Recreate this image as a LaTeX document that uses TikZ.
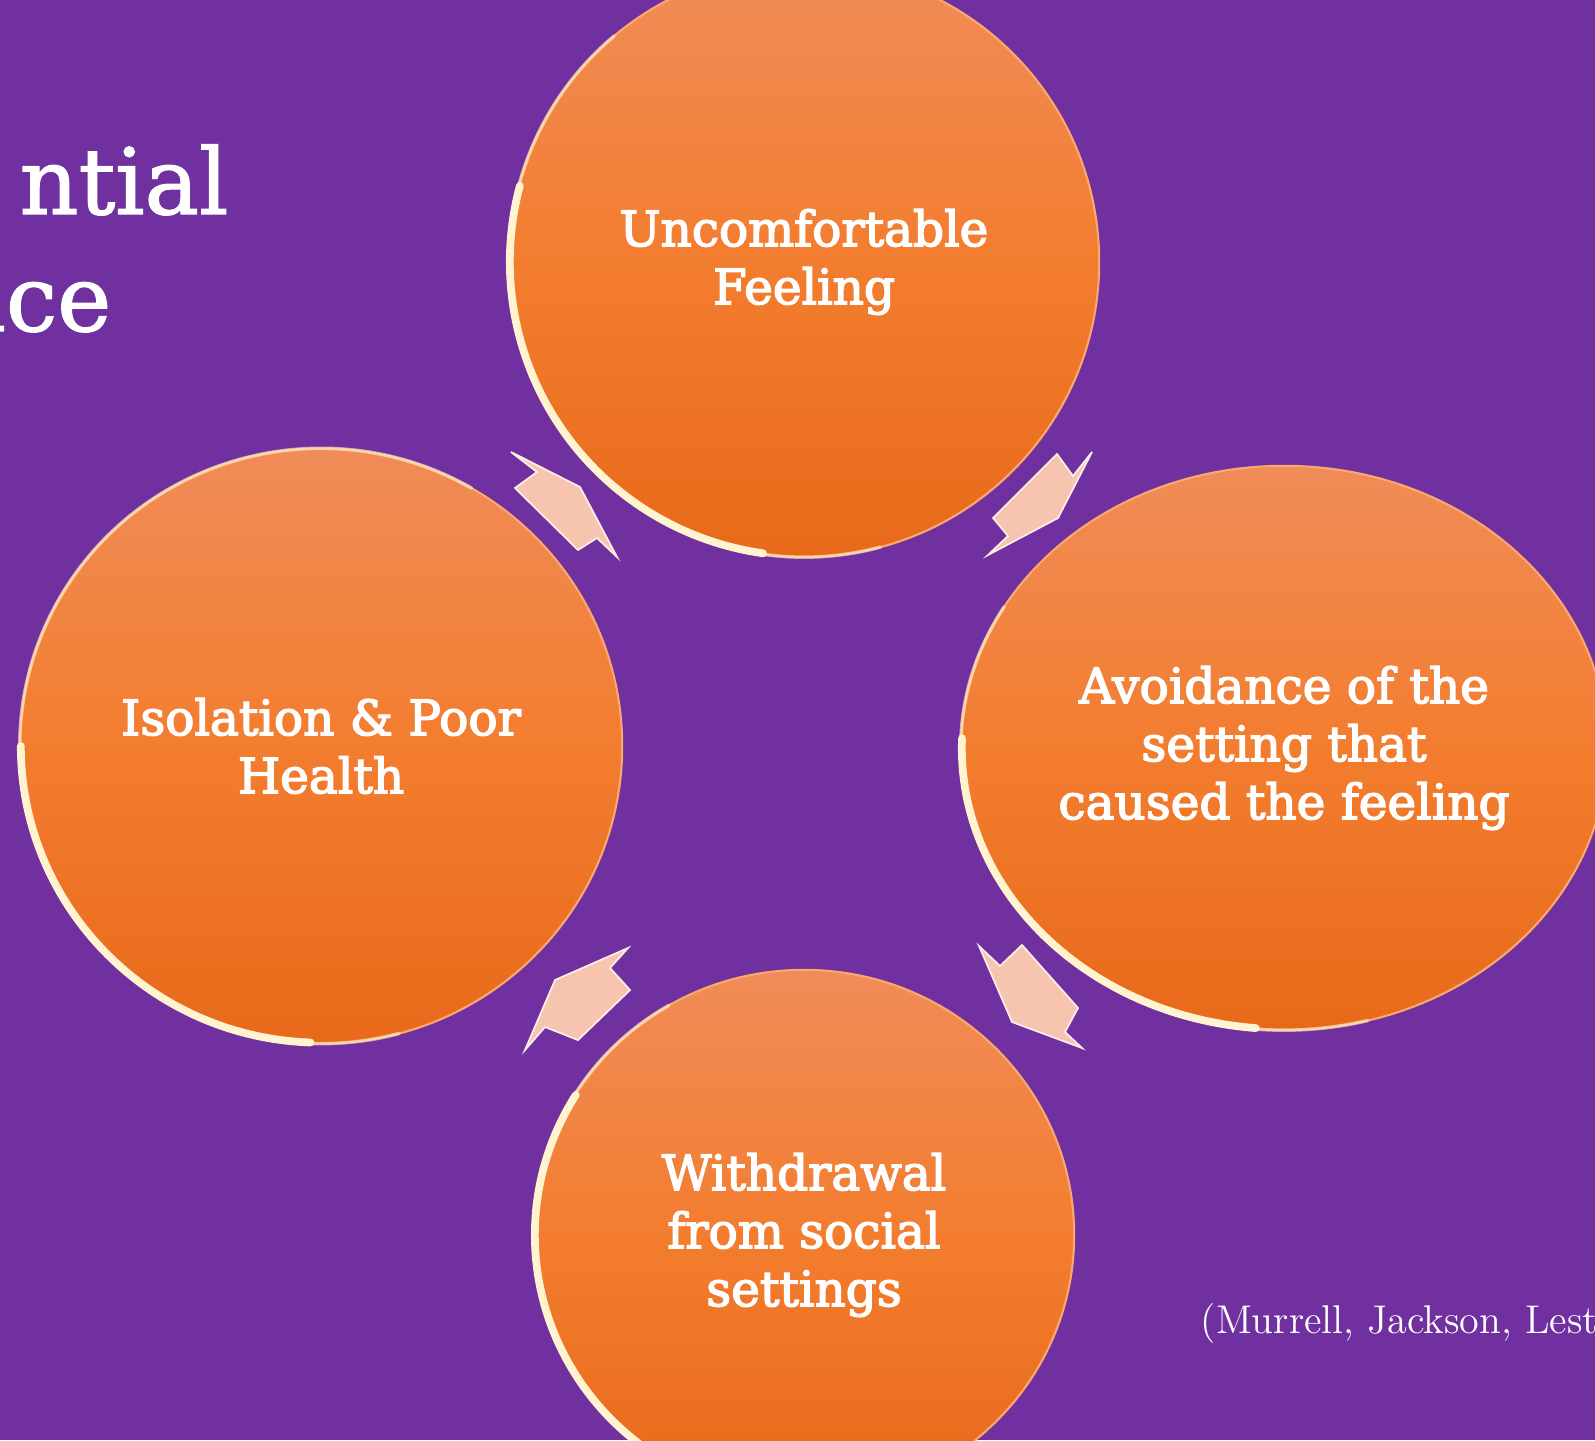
\documentclass[tikz,border=0pt]{standalone}
\usepackage{fontspec}
\newfontfamily\cyclefont{DejaVu Serif}[FakeBold=3]
\newfontfamily\titlefont{DejaVu Serif}[FakeBold=1.5]
\usetikzlibrary{shapes.geometric}

\definecolor{slidepurple}{HTML}{7030A0}
\definecolor{orangetop}{HTML}{F08C58}
\definecolor{orangemid}{HTML}{F37D2F}
\definecolor{orangebot}{HTML}{E8691A}
\definecolor{rimorange}{HTML}{F9A86E}
\definecolor{rimlight}{HTML}{FFF4CF}
\definecolor{arrowpeach}{HTML}{F7C4AF}

\tikzset{
  stage/.style={circle, inner sep=0pt, top color=orangetop, bottom color=orangebot,
    middle color=orangemid, draw=rimorange, line width=0.6pt, text=white, align=center,
    font=\cyclefont\fontsize{13.8}{16.5}\selectfont},
  rimglow/.style={rimlight, line width=1pt, line cap=round, opacity=0.6},
  rim/.style={rimlight, line width=2.2pt, line cap=round},
  cyclearrow/.style={fill=arrowpeach, draw=white!70!arrowpeach, line width=0.5pt, line join=miter},
  slidetitle/.style={text=white, inner sep=0pt, font=\titlefont\fontsize{26}{33}\selectfont},
  citation/.style={text=white, inner sep=0pt, font=\rmfamily\fontsize{11.4}{14}\selectfont}
}

\begin{document}
\begin{tikzpicture}[x=0.01cm, y=-0.01cm]
  \useasboundingbox (0,0) rectangle (1595,1440);
  \fill[slidepurple] (0,0) rectangle (1595,1440);
  \clip (0,0) rectangle (1595,1440);

  % title, cut off at the left edge
  \node[slidetitle, anchor=base east] (ttlone) at (229,214) {ntial};
  \node[slidetitle, anchor=base east] (ttltwo) at (112,331) {ace};

  % the four stages
  \node[stage, minimum size=5.9cm] (unc) at (804,262) {Uncomfortable\\Feeling};
  \node[stage, ellipse, minimum width=6.46cm, minimum height=5.64cm] (avo) at (1284,748)
    {Avoidance of the\\setting that\\caused the feeling};
  \node[stage, ellipse, minimum width=5.4cm, minimum height=5.3cm] (wit) at (804,1235)
    {Withdrawal\\from social\\settings};
  \node[stage, ellipse, minimum width=6.02cm, minimum height=5.95cm] (iso) at (321,746)
    {Isolation \& Poor\\Health};

  % glossy rims
  \draw[rimglow] ([shift={(130:2.95cm)}]unc.center) arc[start angle=130, end angle=285, radius=2.95cm];
  \draw[rim] ([shift={(165:2.94cm)}]unc.center) arc[start angle=165, end angle=262, radius=2.94cm];
  \draw[rimglow] ([shift={(150:3.23cm and 2.82cm)}]avo.center)
    arc[start angle=150, end angle=285, x radius=3.23cm, y radius=2.82cm];
  \draw[rim] ([shift={(178:3.22cm and 2.81cm)}]avo.center)
    arc[start angle=178, end angle=265, x radius=3.22cm, y radius=2.81cm];
  \draw[rimglow] ([shift={(120:2.7cm and 2.65cm)}]wit.center)
    arc[start angle=120, end angle=275, x radius=2.7cm, y radius=2.65cm];
  \draw[rim] ([shift={(148:2.69cm and 2.64cm)}]wit.center)
    arc[start angle=148, end angle=250, x radius=2.69cm, y radius=2.64cm];
  \draw[rimglow] ([shift={(60:3.01cm and 2.975cm)}]iso.center)
    arc[start angle=60, end angle=285, x radius=3.01cm, y radius=2.975cm];
  \draw[rim] ([shift={(180:3cm and 2.965cm)}]iso.center)
    arc[start angle=180, end angle=268, x radius=3cm, y radius=2.965cm];

  % arrows of the cycle
  \begin{scope}
    \draw[cyclearrow] (511,452) -- (580,487) -- (617,557) -- (597,538) -- (578,550) -- (515,488) -- (537,472) -- cycle;
    \draw[cyclearrow] (1057,454) -- (1073,476) -- (1092,452) -- (1058,518) -- (988,555) -- (1008,536) -- (993,518) -- cycle;
    \draw[cyclearrow] (979,946) -- (1000,966) -- (1022,945) -- (1078,1008) -- (1065,1032) -- (1082,1048) -- (1012,1022) -- cycle;
    \draw[cyclearrow] (628,948) -- (610,968) -- (630,990) -- (578,1040) -- (545,1027) -- (525,1050) -- (555,980) -- cycle;
  \end{scope}

  \node[citation, anchor=base west] (cite) at (1200,1333) {(Murrell, Jackson, Lest};
\end{tikzpicture}
\end{document}
